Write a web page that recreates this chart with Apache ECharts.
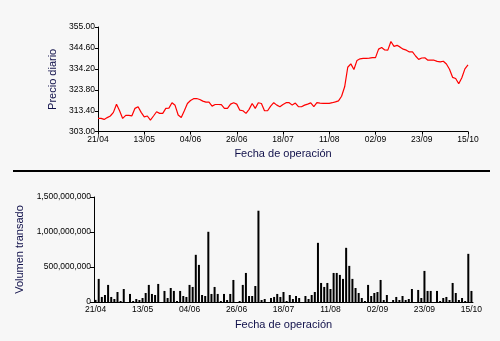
<!DOCTYPE html>
<html>
<head>
<meta charset="utf-8">
<script src="https://cdn.jsdelivr.net/npm/echarts@6/dist/echarts.min.js"></script>
<style>
  html, body { margin: 0; padding: 0; background: #f7f7f7; }
  #chart { width: 500px; height: 341px; }
</style>
</head>
<body>
<div id="chart"></div>
<script>
// Daily closing price, one value per trading day (21/04 .. 15/10)
const precioDiario = [
  309.6, 309.6, 309.1, 310.0, 310.8, 312.6, 316.6, 313.4, 309.6, 311.1,
  311.1, 310.9, 314.6, 315.4, 312.6, 310.4, 310.8, 308.8, 310.8, 312.9,
  312.1, 312.1, 314.6, 314.7, 317.4, 316.1, 311.3, 310.1, 313.4, 317.0,
  318.5, 319.4, 319.5, 319.0, 318.2, 317.7, 317.7, 315.7, 316.5, 316.5,
  316.4, 314.6, 314.6, 316.7, 317.4, 316.7, 313.7, 313.4, 312.1, 314.1,
  317.0, 314.6, 317.4, 317.0, 313.4, 313.4, 315.7, 317.4, 316.2, 315.4,
  316.5, 317.4, 317.4, 316.2, 317.2, 315.4, 315.4, 316.2, 316.7, 317.3,
  315.4, 317.4, 317.2, 317.1, 317.1, 317.1, 317.4, 317.8, 318.3, 320.6,
  325.3, 335.0, 336.7, 333.9, 338.4, 339.2, 339.4, 339.4, 339.5, 339.8,
  339.8, 344.0, 344.8, 343.6, 343.5, 347.8, 345.4, 345.9, 345.0, 344.0,
  343.5, 342.6, 342.6, 340.6, 338.9, 339.6, 339.7, 338.5, 338.5, 338.5,
  337.9, 337.7, 338.0, 336.6, 334.0, 330.0, 329.4, 326.8, 329.8, 334.2,
  336.2
];

// Traded volume per trading day
const volumenTransado = [
   30e6, 330e6,  72e6, 100e6, 244e6,  72e6,  43e6, 143e6,  14e6, 186e6,
    0,   115e6,  14e6,  43e6,  29e6,  57e6, 129e6, 244e6, 115e6, 100e6,
  258e6,   0,   158e6,  57e6, 200e6, 158e6,  14e6, 158e6,  86e6,  72e6,
  244e6, 215e6, 674e6, 530e6, 100e6,  86e6, 1003e6, 115e6, 215e6, 115e6,
   14e6, 115e6,  29e6, 115e6, 315e6,   0,    14e6, 244e6, 415e6,  86e6,
   86e6, 229e6, 1304e6, 29e6,  43e6,   0,    57e6,  72e6, 115e6,  72e6,
  143e6,  14e6, 100e6,  43e6,  86e6,  57e6,   0,    86e6,  43e6, 100e6,
  143e6, 845e6, 272e6, 215e6, 272e6, 186e6, 415e6, 415e6, 387e6, 330e6,
  774e6, 516e6, 330e6, 200e6, 129e6,  57e6,  14e6, 244e6,  86e6, 129e6,
  143e6, 315e6,  29e6, 100e6,   0,    29e6,  72e6,  29e6,  86e6,  29e6,
   43e6, 186e6,   0,   172e6,  57e6, 444e6, 158e6, 158e6,   0,   158e6,
   14e6,  57e6,  72e6,  29e6, 272e6, 129e6,  29e6,  57e6,  14e6, 688e6,
  158e6
];

// Date labels shown every 15 trading days
const etiquetasFecha = ['21/04', '13/05', '04/06', '26/06', '18/07', '11/08', '02/09', '23/09', '15/10'];
const pasoEtiqueta = 15;

// Price axis ticks
const ticksPrecio = [303.0, 313.4, 323.8, 334.2, 344.6, 355.0];

const dias = precioDiario.map((_, i) => String(i));
const fechaDe = (v, i) => (i % pasoEtiqueta === 0 ? etiquetasFecha[i / pasoEtiqueta] : '');

const FONT = '"Liberation Sans", Arial, sans-serif';
const tickText = { color: '#000', fontSize: 8.5, fontFamily: FONT };
const nameText = { color: '#10104a', fontSize: 11, fontFamily: FONT };
const black = { lineStyle: { color: '#000', width: 1 } };

const chart = echarts.init(document.getElementById('chart'), null, { renderer: 'canvas' });

chart.setOption({
  backgroundColor: '#f7f7f7',
  animation: false,
  grid: [
    { left: 98, right: 32, top: 27, height: 104.7 },
    { left: 94, right: 27, top: 197, height: 105 }
  ],
  xAxis: [
    {
      gridIndex: 0, type: 'category', data: dias, boundaryGap: false,
      axisLine: black,
      axisTick: { interval: pasoEtiqueta - 1, length: 3, ...black },
      axisLabel: { interval: pasoEtiqueta - 1, margin: 3, formatter: fechaDe, ...tickText },
      splitLine: { show: false },
      name: 'Fecha de operación', nameLocation: 'middle', nameGap: 17, nameTextStyle: nameText
    },
    {
      gridIndex: 1, type: 'category', data: dias, boundaryGap: true,
      axisLine: black,
      axisTick: { interval: pasoEtiqueta - 1, alignWithLabel: true, length: 3, ...black },
      axisLabel: { interval: pasoEtiqueta - 1, margin: 3, formatter: fechaDe, ...tickText },
      splitLine: { show: false },
      name: 'Fecha de operación', nameLocation: 'middle', nameGap: 17, nameTextStyle: nameText
    }
  ],
  yAxis: [
    {
      gridIndex: 0, type: 'value', min: 303, max: 355,
      axisLine: { show: true, ...black },
      axisTick: { show: true, length: 3, customValues: ticksPrecio, ...black },
      axisLabel: { customValues: ticksPrecio, margin: 3, formatter: v => v.toFixed(2), ...tickText },
      splitLine: { show: false },
      name: 'Precio diario', nameLocation: 'middle', nameGap: 35, nameTextStyle: nameText
    },
    {
      gridIndex: 1, type: 'value', min: 0, max: 1500000000, interval: 500000000,
      axisLine: { show: true, ...black },
      axisTick: { show: true, length: 4, ...black },
      axisLabel: { margin: 3, formatter: v => v.toLocaleString('en-US'), ...tickText },
      splitLine: { show: false },
      name: 'Volumen transado', nameLocation: 'middle', nameGap: 63, nameTextStyle: nameText
    }
  ],
  series: [
    {
      type: 'line', xAxisIndex: 0, yAxisIndex: 0, data: precioDiario,
      symbol: 'none', lineStyle: { color: '#ff0000', width: 1.2 }, itemStyle: { color: '#ff0000' }
    },
    {
      type: 'bar', xAxisIndex: 1, yAxisIndex: 1, data: volumenTransado,
      barWidth: 2, itemStyle: { color: '#000' }
    }
  ],
  graphic: [
    { type: 'rect', shape: { x: 13, y: 170, width: 477, height: 2 }, style: { fill: '#000' }, silent: true }
  ]
});
</script>
</body>
</html>
